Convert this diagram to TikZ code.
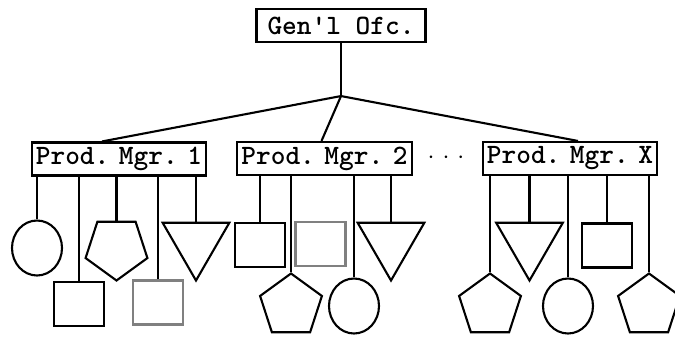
\documentclass[tikz,border=0pt]{standalone}
\usetikzlibrary{shapes.geometric,calc}
\begin{document}
\begin{tikzpicture}[x=1pt,y=-1pt, line width=2.1pt,
  lbl/.style={draw, rectangle, inner sep=0pt, minimum height=33pt, font=\fontsize{28}{28}\selectfont\ttfamily\bfseries},
  sq/.style={draw, rectangle, inner sep=0pt, minimum width=50pt, minimum height=44pt},
  graysq/.style={sq, draw=gray},
  circ/.style={draw, ellipse, inner sep=0pt, minimum width=50pt, minimum height=55pt},
  pentup/.style={draw, regular polygon, regular polygon sides=5, inner sep=0pt, minimum size=65pt},
  pentdn/.style={pentup, shape border rotate=180},
  tridn/.style={draw, regular polygon, regular polygon sides=3, shape border rotate=180, inner sep=0pt, minimum size=77pt}]
\useasboundingbox (0,0) rectangle (675,337);
% top
\node[lbl, minimum width=169pt] (gen) at (341,25.5) {Gen\textquotesingle l Ofc.};
\coordinate (j) at ($(gen.south)+(0,53)$);
\node[lbl, minimum width=174pt] (pm1) at (119,159) {Prod.\hspace{-10pt} Mgr.\hspace{-10pt} 1};
\node[lbl, minimum width=175pt] (pm2) at (324.5,158.5) {Prod.\hspace{-10pt} Mgr.\hspace{-10pt} 2};
\node[lbl, minimum width=174pt] (pmx) at (570,158.5) {Prod.\hspace{-10pt} Mgr.\hspace{-10pt} X};
\node[inner sep=0pt, font=\fontsize{28}{28}\selectfont] (dots) at (446,158) {$\cdot$\hspace{8pt}$\cdot$\hspace{8pt}$\cdot$};
\draw (gen.south) -- (j);
\draw (j) -- ([xshift=-17pt]pm1.north);
\draw (j) -- ([xshift=-3pt]pm2.north);
\draw (j) -- ([xshift=8pt]pmx.north);
% PM1 children
\node[circ] (a1) at (37,248) {};
\node[sq] (a2) at (79,304) {};
\node[pentdn] (a3) at (116.5,248) {};
\node[graysq] (a4) at (158,302.5) {};
\node[tridn] (a5) at (196,242) {};
% PM2 children
\node[sq] (b1) at (260,245) {};
\node[pentup] (b2) at (291,306) {};
\node[graysq] (b3) at (320.5,244) {};
\node[circ] (b4) at (354,306) {};
\node[tridn] (b5) at (391,242) {};
% PMX children
\node[pentup] (c1) at (490,306) {};
\node[tridn] (c2) at (529.5,242) {};
\node[circ] (c3) at (568,306) {};
\node[sq] (c4) at (607,245.5) {};
\node[pentup] (c5) at (649,306) {};
% connectors
\foreach \s in {a1,a2,a3,a4,a5} \draw (pm1.south -| \s.north) -- (\s.north);
\foreach \s in {b1,b2,b4,b5} \draw (pm2.south -| \s.north) -- (\s.north);
\foreach \s in {c1,c2,c3,c4,c5} \draw (pmx.south -| \s.north) -- (\s.north);
\end{tikzpicture}
\end{document}
